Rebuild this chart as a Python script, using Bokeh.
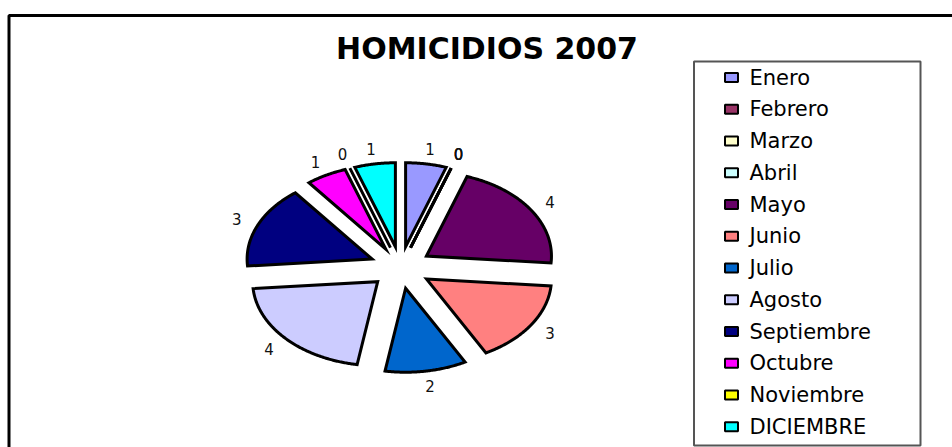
import numpy as np
from bokeh.plotting import figure
from bokeh.models import Range1d, ColumnDataSource
from bokeh.core.properties import value
from bokeh.embed import file_html
from bokeh.resources import INLINE

# ---- data ----
title = "HOMICIDIOS 2007"
months = ["Enero", "Febrero", "Marzo", "Abril", "Mayo", "Junio", "Julio",
          "Agosto", "Septiembre", "Octubre", "Noviembre", "DICIEMBRE"]
counts = [1, 0, 0, 0, 4, 3, 2, 4, 3, 1, 0, 1]
colors = ["#9999FF", "#993366", "#FFFFCC", "#CCFFFF", "#660066", "#FF8080",
          "#0066CC", "#CCCCFF", "#000080", "#FF00FF", "#FFFF00", "#00FFFF"]

# ---- layout (figure pixel space, y downward) ----
W, H = 952, 447
cx, cy = 400.0, 267.0
rx, ry = 125.0, 84.0
ex, ey = 31.0, 21.0
lab_r = 1.43

p = figure(width=W, height=H, output_backend="svg", toolbar_location=None,
           x_range=Range1d(0, W), y_range=Range1d(H, 0), min_border=0)
p.axis.visible = False
p.grid.visible = False
p.outline_line_color = None
p.background_fill_color = "white"
p.border_fill_color = "white"

# outer chart frame (left and top visible)
p.line(x=[8.5, 8.5, W], y=[H, 15, 15], line_color="black", line_width=3)

total = float(sum(counts))
xs, ys, lx, ly = [], [], [], []
a0 = 90.0
for v in counts:
    span = 360.0 * v / total
    a1 = a0 - span
    mid = np.radians((a0 + a1) / 2.0)
    tx = cx + ex * np.cos(mid)
    ty = cy - ey * np.sin(mid)
    n = max(2, int(span * 2) + 2)
    th = np.radians(np.linspace(a0, a1, n))
    px = [tx] + list(tx + rx * np.cos(th))
    py = [ty] + list(ty - ry * np.sin(th))
    xs.append(px)
    ys.append(py)
    lx.append(cx + lab_r * rx * np.cos(mid))
    ly.append(cy - lab_r * ry * np.sin(mid))
    a0 = a1

src = ColumnDataSource(dict(xs=xs, ys=ys, color=colors, month=months,
                            lx=lx, ly=ly, lab=[str(c) for c in counts]))
p.patches("xs", "ys", source=src, fill_color="color", line_color="black",
          line_width=3, line_join="miter")
p.text("lx", "ly", text="lab", source=src, text_font=value("DejaVu Sans"),
       text_font_size="15px", text_color="#111111", text_align="center",
       text_baseline="middle")

# title
p.text(x=[486.5], y=[47.5], text=[title], text_font=value("DejaVu Sans"),
       text_font_style="bold", text_font_size="30px", text_color="black",
       text_align="center", text_baseline="middle")

# legend
p.quad(left=[693.5], right=[920], top=[61], bottom=[445], fill_color="white",
       line_color="#555555", line_width=2)
row0, step = 77.0, 31.75
ry_rows = [row0 + i * step for i in range(len(months))]
p.rect(x=[731.0] * len(months), y=ry_rows, width=13, height=9,
       fill_color=colors, line_color="black", line_width=2)
p.text(x=[749.0] * len(months), y=ry_rows, text=months,
       text_font=value("DejaVu Sans"), text_font_size="21px",
       text_color="black", text_align="left", text_baseline="middle")

open("out.html", "w").write(file_html(p, INLINE))
